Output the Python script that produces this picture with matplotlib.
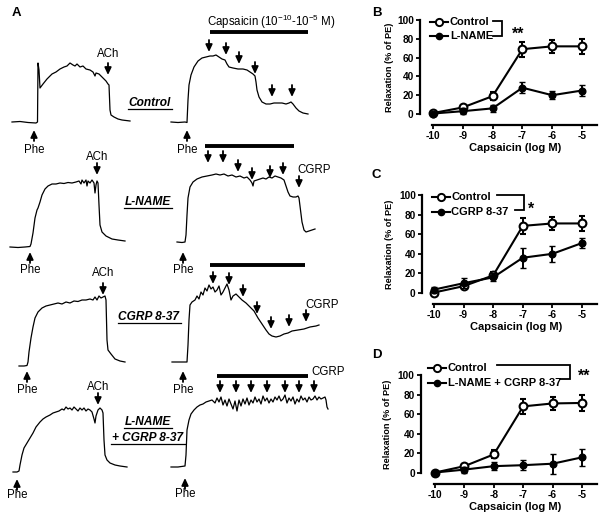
import matplotlib
matplotlib.use('Agg')
import matplotlib.pyplot as plt

plt.rcParams['font.family'] = ['Liberation Sans', 'DejaVu Sans']
plt.rcParams['mathtext.fontset'] = 'custom'
plt.rcParams['mathtext.rm'] = 'Liberation Sans'
plt.rcParams['mathtext.it'] = 'Liberation Sans:italic'
plt.rcParams['mathtext.bf'] = 'Liberation Sans:bold'

# ===================== Panels B-D : concentration-response =====================
log_conc = [-10, -9, -8, -7, -6, -5]
x_tick_labels = ['-10', '-9', '-8', '-7', '-6', '-5']
y_ticks = [0, 20, 40, 60, 80, 100]
y_tick_labels = ['0', '20', '40', '60', '80', '100']

b_ctrl = [1, 7, 19, 69, 72, 72]
b_ctrl_sem = [1, 2, 4, 8, 7, 8]
b_lname = [0.5, 3, 6, 28, 20, 25]
b_lname_sem = [0.5, 3, 4, 6, 4, 6]

c_ctrl = [0.5, 7, 18, 68.5, 71, 71]
c_ctrl_sem = [1, 2, 3, 8, 7, 8]
c_cgrp = [3.5, 10, 16, 36, 40, 51]
c_cgrp_sem = [3, 5, 4, 10, 8, 5]

d_ctrl = [0.5, 7, 19, 68, 71, 71.5]
d_ctrl_sem = [1, 2, 4, 8, 7, 8]
d_combo = [0.5, 3.5, 7, 8, 9.5, 16]
d_combo_sem = [0.5, 3, 4, 5, 10, 9]

legend_b = ['Control', 'L-NAME']
legend_c = ['Control', 'CGRP 8-37']
legend_d = ['Control', 'L-NAME + CGRP 8-37']
sig_b, sig_c, sig_d = '**', '*', '**'

# ===================== Panel A : isometric tension traces =====================
# time (arbitrary units) and tension above baseline (arbitrary units)
ctrl_ach_t = [0, 8, 16, 24, 25.5, 26, 27, 28, 31, 35, 40, 44, 48, 52, 55, 58, 61, 63, 65, 68, 71, 74, 78, 81,
              83, 84, 87, 91, 94, 96, 97, 98, 99, 102, 106, 110, 114, 118]
ctrl_ach_f = [0, 0.5, -0.5, -1, 0, 59, 52, 34, 38, 43, 48, 50, 53, 55, 56, 59, 57, 56, 58, 55, 56, 53, 52, 50,
              46, 49, 48, 44, 41, 38, 37, 12, 7, 5, 3, 2, 1.5, 1]

ctrl_cap_t = [0, 7, 14, 16, 17, 18, 20, 23, 27, 31, 35, 39, 42, 45, 48, 51, 54, 56, 58, 62, 67, 72, 76, 79,
              82, 84, 85, 86, 88, 91, 95, 99, 103, 107, 111, 115, 118, 120, 122, 125, 128, 132, 137]
ctrl_cap_f = [0, -0.5, 0, -0.5, 22, 37, 47, 55, 61, 64, 65, 66, 66, 67, 65, 63, 62, 58, 55, 54, 53, 53, 52, 50,
              48, 46, 40, 32, 25, 20, 18, 18, 19, 19, 19, 18, 19, 20, 18, 14, 11, 9, 8]

lname_ach_t = [0, 8, 15, 20, 21, 23, 25, 27, 28, 30, 32, 35, 38, 42, 46, 50, 54, 58, 62, 66, 69, 71, 72, 74,
               76, 77, 78, 80, 82, 84, 85, 86, 87, 88, 89, 90, 92, 96, 102, 108, 115]
lname_ach_f = [0, -0.5, 0, 0.5, 3, 14, 29, 37, 39, 45, 52, 58, 61, 63, 63, 64, 63.5, 64.5, 64, 65, 66, 63, 67, 64,
               67, 61, 66, 64, 67, 64, 54, 62, 66, 64, 42, 22, 15, 11, 8, 7, 6]

lname_cap_t = [0, 5, 8, 9, 10, 11, 13, 16, 20, 25, 30, 35, 39, 43, 47, 51, 55, 59, 63, 67, 70, 73, 75, 76,
               77, 80, 83, 86, 89, 92, 95, 98, 101, 104, 107, 109, 111, 113, 116, 119, 121, 122, 123, 125,
               127, 129, 132, 135, 138]
lname_cap_f = [0, -0.5, 0, 7, 27, 44, 55, 60, 63, 65, 66, 67, 68, 67, 68, 66, 67, 65, 66, 64, 65, 62, 59, 56,
               61, 62, 63, 64, 63, 65, 64, 66, 65, 64, 62, 56, 50, 46, 45, 45, 46, 44, 36, 20,
               12, 10, 11, 12, 13]

cgrp_ach_t = [0, 5, 8, 9, 10, 12, 14, 16, 19, 23, 27, 31, 35, 39, 43, 47, 51, 55, 59, 63, 67, 71, 74, 76,
              78, 80, 82, 84, 86, 87, 88, 89, 92, 96, 101, 106]
cgrp_ach_f = [0, 0, 0.5, 4, 14, 28, 39, 48, 54, 58, 60, 61, 62, 63, 62, 64, 63, 65, 64.5, 66, 66, 67, 66, 69,
              66, 70, 68, 69, 70, 66, 26, 16, 12, 7, 5, 4]

cgrp_cap_t = [0, 8, 15, 16, 17, 18, 20, 23, 25, 27, 29, 31, 33, 35, 37, 39, 41, 43, 45, 47, 49, 51, 53, 55,
              57, 59, 61, 64, 67, 70, 74, 78, 82, 86, 90, 94, 97, 100, 104, 108, 112, 116, 120, 126,
              132, 138, 144, 147]
cgrp_cap_f = [0, 0, 0, 17, 42, 57, 60, 62, 66, 63, 70, 67, 74, 71, 77, 73, 75, 70, 72, 76, 67, 70, 74, 78,
              72, 62, 66, 68, 65, 62, 59, 55, 51, 44, 38, 32, 28, 26, 25, 26, 28, 29, 31, 32,
              33, 35, 36, 37]

combo_ach_t = [0, 4, 6, 7, 9, 11, 14, 17, 20, 23, 27, 30, 33, 37, 40, 43, 46, 49, 51, 53, 55, 57, 59, 61,
               63, 65, 67, 69, 71, 73, 75, 77, 79, 81, 82, 83, 85, 87, 89, 90, 91, 92, 94, 97, 102, 107, 114]
combo_ach_f = [0, 0, 1, 7, 17, 24, 29, 34, 39, 45, 50, 53, 55, 57, 59, 60, 61, 63, 62, 65, 63, 64, 62, 65,
               63, 61, 64, 62, 64, 61, 63, 62, 60, 53, 49, 56, 62, 64, 62, 59, 32, 17, 12, 9, 7, 6, 5]

combo_cap_t = [0, 7, 14, 15, 16, 18, 20, 23, 26, 29, 32, 35, 38, 41, 44, 46, 48, 50, 52, 54, 56, 58, 60, 62,
               64, 66, 68, 70, 72, 74, 76, 78, 80, 82, 84, 86, 88, 90, 92, 94, 96, 98, 100, 102, 104, 106,
               108, 110, 112, 114, 116, 118, 120, 122, 124, 126, 128, 130, 132, 134, 136, 138, 140, 142,
               144, 146, 148, 150, 152, 154, 155, 156, 157]
combo_cap_f = [0, 0, 1, 12, 37, 47, 53, 57, 60, 62, 63, 65, 66, 67, 64, 69, 65, 70, 62, 67, 61, 68, 63, 58,
               66, 56, 67, 61, 68, 63, 69, 62, 67, 64, 70, 65, 68, 63, 71, 66, 69, 64, 68, 65, 70, 67,
               71, 66, 68, 72, 64, 69, 66, 70, 63, 68, 65, 71, 67, 69, 65, 70, 67, 68,
               71, 67, 70, 68, 69, 70, 67, 60, 58]

# drug-addition arrows: time of addition, and tension level of arrow tip
ctrl_cap_arrow_t = [38, 55, 68, 84, 101, 121]
ctrl_cap_arrow_f = [70, 67, 58, 48, 25, 25]
lname_cap_arrow_t = [31, 46, 61, 75, 93, 106, 122]
lname_cap_arrow_f = [79, 79, 70, 62, 64, 67, 54]
cgrp_cap_arrow_t = [41, 57, 71, 85, 99, 117, 134]
cgrp_cap_arrow_f = [78, 77, 65, 48, 33, 35, 40]
combo_cap_arrow_t = [49, 65, 80, 96, 114, 128, 143]
combo_cap_arrow_f = [74, 74, 74, 74, 74, 74, 74]

row_labels = ['Control', 'L-NAME', 'CGRP 8-37', 'L-NAME', '+ CGRP 8-37']

# ===================== figure =====================
W, H = 605, 521
fig = plt.figure(figsize=(W / 100, H / 100), dpi=100)
fig.patch.set_facecolor('white')


def px_rect(left, top, right, bottom):
    return [left / W, (H - bottom) / H, (right - left) / W, (bottom - top) / H]


TICK_FS = 7.3
XLAB_FS = 8.0
YLAB_FS = 6.6
LEG_FS = 8.0


def dose_panel(rect, xlim, ylim, ctrl, ctrl_sem, trt, trt_sem, ylab_x):
    ax = fig.add_axes(rect)
    ax.errorbar(log_conc, ctrl, yerr=ctrl_sem, color='k', lw=1.5, marker='o', ms=5.6,
                mfc='white', mec='k', mew=1.5, capsize=2.4, capthick=1.4, elinewidth=1.4, zorder=3)
    ax.errorbar(log_conc, trt, yerr=trt_sem, color='k', lw=1.5, marker='o', ms=4.8,
                mfc='k', mec='k', mew=1.0, capsize=2.4, capthick=1.4, elinewidth=1.4, zorder=4)
    ax.set_xlim(*xlim)
    ax.set_ylim(*ylim)
    for s in ('top', 'right'):
        ax.spines[s].set_visible(False)
    ax.spines['left'].set_bounds(0, 100)
    ax.spines['bottom'].set_bounds(-10.05, xlim[1])
    for s in ('left', 'bottom'):
        ax.spines[s].set_linewidth(1.6)
    ax.set_xticks(log_conc)
    ax.set_xticklabels(x_tick_labels, fontsize=TICK_FS, fontweight='bold')
    ax.set_yticks(y_ticks)
    ax.set_yticklabels(y_tick_labels, fontsize=TICK_FS, fontweight='bold')
    ax.tick_params(direction='out', length=3, width=1.3, pad=1.5)
    ax.set_facecolor('none')
    ax.set_xlabel('Capsaicin (log M)', fontsize=XLAB_FS, fontweight='bold')
    ax.set_ylabel('Relaxation (% of PE)', fontsize=YLAB_FS, fontweight='bold')
    hpx = rect[3] * H
    wpx = rect[2] * W
    ax.xaxis.set_label_coords(0.535, -23 / hpx)
    ax.xaxis.label.set_va('center')
    ymid = (50 - ylim[0]) / (ylim[1] - ylim[0])
    ax.yaxis.set_label_coords(ylab_x / wpx, ymid)
    ax.yaxis.label.set_va('center')
    return ax


axB = dose_panel(px_rect(420, 16, 597, 125), (-10.436, -4.497), (-11.7, 104.3),
                 b_ctrl, b_ctrl_sem, b_lname, b_lname_sem, -30)
axC = dose_panel(px_rect(422, 191, 597, 304), (-10.405, -4.493), (-11.2, 104.1),
                 c_ctrl, c_ctrl_sem, c_cgrp, c_cgrp_sem, -32)
axD = dose_panel(px_rect(421, 371, 597, 484), (-10.476, -4.49), (-11.2, 104.1),
                 d_ctrl, d_ctrl_sem, d_combo, d_combo_sem, -33)

# overlay in figure-pixel units for annotations and panel A
ov = fig.add_axes([0, 0, 1, 1])
ov.set_xlim(0, W)
ov.set_ylim(H, 0)
ov.axis('off')
ov.set_facecolor('none')
ov.set_zorder(10)


def legend_block(h0, h1, tx, y1, y2, labels, br_top, br_bot_x0, br_x, br_y1, br_y2, star, star_x, star_y):
    hm = (h0 + h1) / 2
    ov.plot([h0, h1], [y1, y1], color='k', lw=1.5)
    ov.plot([hm], [y1], marker='o', ms=5.2, mfc='white', mec='k', mew=1.4)
    ov.plot([h0, h1], [y2, y2], color='k', lw=1.5)
    ov.plot([hm], [y2], marker='o', ms=4.5, mfc='k', mec='k')
    ov.text(tx, y1, labels[0], fontsize=LEG_FS, fontweight='bold', va='center', ha='left')
    ov.text(tx, y2, labels[1], fontsize=LEG_FS, fontweight='bold', va='center', ha='left')
    ov.plot([br_top, br_x, br_x, br_bot_x0], [br_y1, br_y1, br_y2, br_y2], color='k', lw=1.3,
            solid_joinstyle='miter')
    ov.text(star_x, star_y, star, fontsize=11.5, fontweight='bold', va='center', ha='center')


legend_block(430, 448, 450, 22, 36, legend_b, 493, 493, 502, 21, 36, sig_b, 518, 34)
legend_block(432, 450, 451, 197, 212, legend_c, 497, 515, 524, 195, 210, sig_c, 531, 209)
legend_block(428, 446, 448, 368, 383, legend_d, 497, 560, 570, 365, 379, sig_d, 584, 376)

# panel letters
for lab, (lx, ly) in zip('ABCD', [(12, 13), (372, 13), (372, 175), (372, 355)]):
    ov.text(lx, ly, lab, fontsize=9.5, fontweight='bold', ha='left', va='center')

# ----- panel A traces -----
origins = {
    'ctrl_ach': (12, 122), 'ctrl_cap': (171, 122),
    'lname_ach': (10, 247), 'lname_cap': (177, 242),
    'cgrp_ach': (19, 366), 'cgrp_cap': (172, 362),
    'combo_ach': (13, 472), 'combo_cap': (171, 467),
}
traces = {
    'ctrl_ach': (ctrl_ach_t, ctrl_ach_f), 'ctrl_cap': (ctrl_cap_t, ctrl_cap_f),
    'lname_ach': (lname_ach_t, lname_ach_f), 'lname_cap': (lname_cap_t, lname_cap_f),
    'cgrp_ach': (cgrp_ach_t, cgrp_ach_f), 'cgrp_cap': (cgrp_cap_t, cgrp_cap_f),
    'combo_ach': (combo_ach_t, combo_ach_f), 'combo_cap': (combo_cap_t, combo_cap_f),
}
for key, (tt, ff) in traces.items():
    x0, y0 = origins[key]
    ov.plot([x0 + t for t in tt], [y0 - f for f in ff], color='k', lw=0.9, solid_joinstyle='round')

LBL_FS = 8.3
ARW = dict(arrowstyle='-|>,head_length=0.6,head_width=0.28', lw=1.3, color='k',
           shrinkA=0, shrinkB=0, mutation_scale=7)


def arrow(x, y_tip, y_tail):
    ov.annotate('', xy=(x, y_tip), xytext=(x, y_tail), arrowprops=ARW)


# drug addition arrows (capsaicin / CGRP)
for key, at, af in [('ctrl_cap', ctrl_cap_arrow_t, ctrl_cap_arrow_f),
                    ('lname_cap', lname_cap_arrow_t, lname_cap_arrow_f),
                    ('cgrp_cap', cgrp_cap_arrow_t, cgrp_cap_arrow_f),
                    ('combo_cap', combo_cap_arrow_t, combo_cap_arrow_f)]:
    x0, y0 = origins[key]
    for t, f in zip(at, af):
        arrow(x0 + t, y0 - f, y0 - f - 12)

# capsaicin bars
for key, (t1, t2, f) in [('ctrl_cap', (39, 137, 90)), ('lname_cap', (28, 117, 96)),
                         ('cgrp_cap', (38, 133, 97)), ('combo_cap', (46, 137, 91))]:
    x0, y0 = origins[key]
    ov.plot([x0 + t1, x0 + t2], [y0 - f, y0 - f], color='k', lw=2.8, solid_capstyle='butt')

ov.text(271, 22, r'Capsaicin (10$^{\mathregular{-10}}$-10$^{\mathregular{-5}}$ M)', fontsize=LBL_FS,
        ha='center', va='center')

# ACh arrows + labels
for ax_, tip, lab_y in [(108, 75, 54), (97, 175, 157), (103, 295, 273), (98, 405, 387)]:
    arrow(ax_, tip, tip - 12)
    ov.text(ax_, lab_y, 'ACh', fontsize=LBL_FS, ha='center', va='center')

# CGRP labels
for cx, cy in [(314, 170), (322, 305), (328, 372)]:
    ov.text(cx, cy, 'CGRP', fontsize=LBL_FS, ha='center', va='center')

# Phe arrows + labels
for px, tip, lab_y in [(34, 130, 150), (187, 130, 150), (30, 252, 270), (183, 252, 270),
                       (27, 371, 390), (183, 371, 390), (17, 479, 495), (185, 478, 494)]:
    arrow(px, tip, tip + 11)
    ov.text(px, lab_y, 'Phe', fontsize=LBL_FS, ha='center', va='center')

# condition labels (bold italic underlined)
cond_pos = [(150, 103), (148, 202), (149, 317), (148, 422), (148, 438)]
cond_texts = []
for lab, (cx, cy) in zip(row_labels, cond_pos):
    cond_texts.append(ov.text(cx, cy, lab, fontsize=8.6, fontweight='bold', fontstyle='italic',
                              ha='center', va='center'))

fig.canvas.draw()
rend = fig.canvas.get_renderer()
inv = ov.transData.inverted()
for txt, (cx, cy) in zip(cond_texts, cond_pos):
    bb = txt.get_window_extent(rend)
    xa, _ = inv.transform((bb.x0, bb.y0))
    xb, _ = inv.transform((bb.x1, bb.y0))
    ov.plot([xa - 1, xb + 1], [cy + 6, cy + 6], color='k', lw=0.9)

fig.savefig('out.png', dpi=100, facecolor='white')
